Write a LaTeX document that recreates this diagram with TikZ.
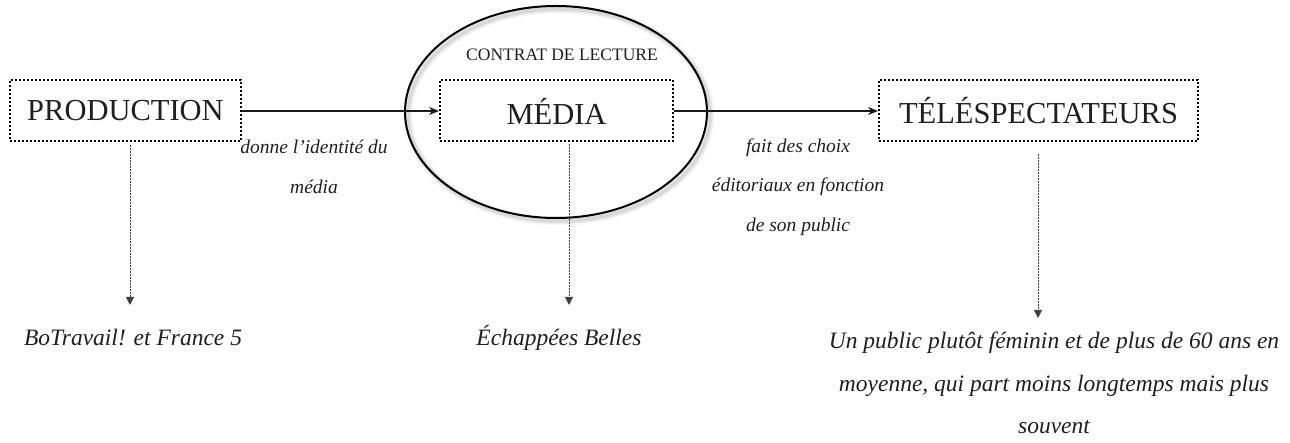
\documentclass[tikz,border=0pt]{standalone}
\usepackage{fontspec}
\setmainfont{Liberation Serif}
\usetikzlibrary{shapes.geometric,arrows.meta}
\begin{document}
\begin{tikzpicture}[x=1pt,y=-1pt,
  box/.style={draw, line width=2pt, dash pattern=on 2pt off 2pt, inner sep=0pt,
    font=\fontsize{30.5}{34}\selectfont, text=black!88},
  mainarrow/.style={line width=1.8pt, black!90, -{Stealth[length=10pt,width=8pt]}},
  subarrow/.style={line width=1pt, dash pattern=on 1.5pt off 1.5pt, black!75,
    -{Triangle[length=8pt,width=8pt]}},
  lab/.style={font=\itshape\fontsize{19.5}{39.5}\selectfont, align=center, inner sep=0pt, text=black!88},
  res/.style={font=\itshape\fontsize{23.5}{42.5}\selectfont, align=center, inner sep=0pt, text=black!88}]
\useasboundingbox (0,0) rectangle (1290,443);

% shadow of the ellipse
\foreach \w/\o in {9/0.03,6/0.05,3.5/0.07}
  \draw[line width=\w pt, black, opacity=\o] (559,115) ellipse [x radius=151, y radius=106];
\node[ellipse, draw, line width=2pt, minimum width=302pt, minimum height=212pt, inner sep=0pt] (contrat) at (556,112) {};
\node[font=\fontsize{17.5}{20}\selectfont, text=black!88] (cl) at (562,55) {CONTRAT DE LECTURE};

\node[box, minimum width=231pt, minimum height=61pt] (prod) at (125.5,111) {PRODUCTION};
\node[box, minimum width=233pt, minimum height=61pt] (media) at (556.5,111) {MÉDIA};
\node[box, minimum width=319pt, minimum height=61pt] (tele) at (1038.5,111) {TÉLÉSPECTATEURS};

\draw[mainarrow] (prod.east) -- (media.west);
\draw[mainarrow] (media.east) -- (tele.west);

\node[lab] (l1) at (314,167) {donne l’identité du\\média};
\node[lab] (l2) at (798,187) {fait des choix\\éditoriaux en fonction\\de son public};

\node[res] (bt) at (133,338) {BoTravail! et France 5};
\node[res] (eb) at (559,338) {Échappées Belles};
\node[res] (pub) at (1054,383) {Un public plutôt féminin et de plus de 60 ans en\\moyenne, qui part moins longtemps mais plus\\souvent};

\coordinate (t1) at (130,305);
\coordinate (t2) at (569,305);
\coordinate (t3) at (1038,318);
\draw[subarrow, shorten <=3pt] (prod.south -| t1) -- (t1);
\draw[subarrow, shorten <=2pt] (media.south -| t2) -- (t2);
\draw[subarrow, shorten <=12pt] (tele.south -| t3) -- (t3);
\end{tikzpicture}
\end{document}
